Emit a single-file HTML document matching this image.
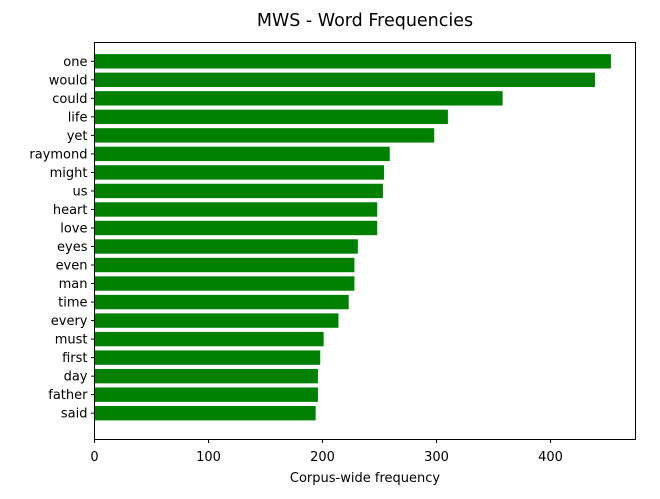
<!DOCTYPE html>
<html><head><meta charset="utf-8"><style>
body{margin:0;background:#fff;font-family:"Liberation Sans","DejaVu Sans",sans-serif;}
svg text{font-family:"DejaVu Sans","Liberation Sans",sans-serif;font-size:13px;fill:#000;}
</style></head><body>
<svg id="chart" width="660" height="494">
<text x="365" y="26" text-anchor="middle" style="font-size:17.5px">MWS - Word Frequencies</text>
<g id="bars"></g>
<g id="yticks"></g>
<g id="xticks"></g>
<rect x="94.5" y="42.5" width="541" height="397" fill="none" stroke="#000" stroke-width="1"/>
<text x="365" y="482" text-anchor="middle">Corpus-wide frequency</text>
</svg>
<script>
const categories=["one","would","could","life","yet","raymond","might","us","heart","love","eyes","even","man","time","every","must","first","day","father","said"];
const values=[453,439,358,310,298,259,254,253,248,248,231,228,228,223,214,201,198,196,196,194];
const xTicks=[0,100,200,300,400];
const NS="http://www.w3.org/2000/svg";
const x0=94.5, pxPer=1.14, yFirst=61.3, step=18.52, bh=14.4;
const xs=v=>x0+v*pxPer;
const ys=i=>yFirst+i*step;
const bars=document.getElementById('bars'),yt=document.getElementById('yticks'),xt=document.getElementById('xticks');
categories.forEach((c,i)=>{
  const r=document.createElementNS(NS,'rect');
  r.setAttribute('x',x0);r.setAttribute('y',ys(i)-bh/2);
  r.setAttribute('width',xs(values[i])-x0);r.setAttribute('height',bh);
  r.setAttribute('fill','#008000');
  
  
  bars.appendChild(r);
  const l=document.createElementNS(NS,'line');
  l.setAttribute('x1',x0-3.5);l.setAttribute('x2',x0);l.setAttribute('y1',ys(i));l.setAttribute('y2',ys(i));l.setAttribute('stroke','#000');
  
  
  yt.appendChild(l);
  const t=document.createElementNS(NS,'text');
  t.setAttribute('x',x0-7);t.setAttribute('y',ys(i)+4.5);t.setAttribute('text-anchor','end');t.textContent=c;
  
  
  yt.appendChild(t);
});
xTicks.forEach(v=>{
  const l=document.createElementNS(NS,'line');
  l.setAttribute('x1',xs(v));l.setAttribute('x2',xs(v));l.setAttribute('y1',439.5);l.setAttribute('y2',443);l.setAttribute('stroke','#000');
  
  
  xt.appendChild(l);
  const t=document.createElementNS(NS,'text');
  t.setAttribute('x',xs(v));t.setAttribute('y',461);t.setAttribute('text-anchor','middle');t.textContent=v;
  
  
  xt.appendChild(t);
});
</script>
</body></html>
